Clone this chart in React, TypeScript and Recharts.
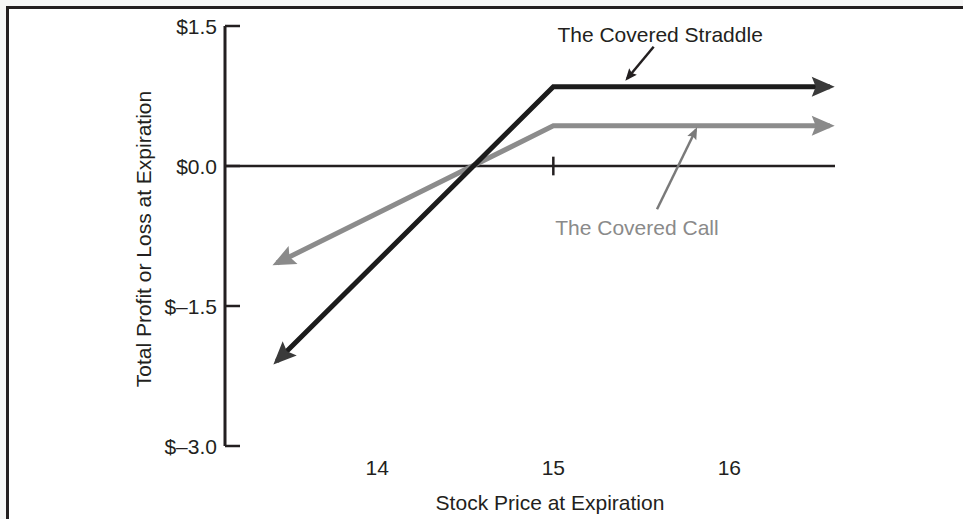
import React from 'react';
import { LineChart, Line, XAxis, YAxis, ReferenceLine, ReferenceDot } from 'recharts';

// stock price at expiration (x) and profit/loss per share (y)
const prices = [13.43, 15, 16.57];
const straddleValues = [-2.09, 0.85, 0.85];
const coveredCallValues = [-1.04, 0.43, 0.43];

const xTicks = [14, 15, 16];
const yTicks = [1.5, 0, -1.5, -3];

// callout arrows (from label towards the line), in data units
const straddleNotePrices = [15.57, 15.42];
const straddleNoteValues = [1.277, 0.938];
const callNotePrices = [15.589, 15.809];
const callNoteValues = [-0.464, 0.385];

const straddleLabel = { price: 15.023, value: 1.328, text: 'The Covered Straddle' };
const callLabel = { price: 15.011, value: -0.739, text: 'The Covered Call' };

const FONT = '"Liberation Sans", Arial, Helvetica, sans-serif';
const INK = '#231f20';
const GRAY = '#8c8c8c';

const data = prices.map((price, i) => ({
  price,
  straddle: straddleValues[i],
  call: coveredCallValues[i],
}));
const straddleNote = straddleNotePrices.map((price, i) => ({ price, value: straddleNoteValues[i] }));
const callNote = callNotePrices.map((price, i) => ({ price, value: callNoteValues[i] }));

const fmtMoney = (v: number) => (v < 0 ? `$\u2013${Math.abs(v).toFixed(1)}` : `$${v.toFixed(1)}`);

// arrowhead drawn at the line ends, pointing along the segment
const arrowDot =
  (color: string, len: number, half: number, notch: number, shift: number, both: boolean) =>
  (props: any) => {
    const { cx, cy, index, points } = props;
    const n = points ? points.length : 0;
    const isLast = index === n - 1;
    const isFirst = index === 0;
    if (!points || n < 2 || (!isLast && !(isFirst && both))) return <g key={`dot-${index}`} />;
    const nb = isLast ? points[index - 1] : points[index + 1];
    const dx = cx - nb.x;
    const dy = cy - nb.y;
    const l = Math.hypot(dx, dy) || 1;
    const ux = dx / l;
    const uy = dy / l;
    const tx = cx + ux * shift;
    const ty = cy + uy * shift;
    const bx = tx - ux * len;
    const by = ty - uy * len;
    const px = -uy;
    const py = ux;
    const nx = bx + ux * notch;
    const ny = by + uy * notch;
    const pts = `${tx},${ty} ${bx + px * half},${by + py * half} ${nx},${ny} ${bx - px * half},${by - py * half}`;
    return <polygon key={`dot-${index}`} points={pts} fill={color} />;
  };

const YTick = (props: any) => {
  const { x, y, payload } = props;
  return (
    <g>
      <line x1={x} y1={y} x2={x + 15} y2={y} stroke={INK} strokeWidth={2.5} />
      <text x={x - 8} y={y + 7.5} textAnchor="end" fill={INK} fontSize={21} fontFamily={FONT}>
        {fmtMoney(payload.value)}
      </text>
    </g>
  );
};

const NoteText = (color: string, text: string) => (props: any) => (
  <text x={props.cx} y={props.cy} fill={color} fontSize={21} fontFamily={FONT} textAnchor="start">
    {text}
  </text>
);

export default function App() {
  return (
    <div style={{ position: 'absolute', top: 0, left: 0, width: 963, height: 519, background: '#f6f6f6' }}>
      <div
        style={{
          position: 'absolute',
          top: 6,
          left: 6,
          right: 0,
          bottom: 0,
          background: '#fff',
          borderTop: `3px solid ${INK}`,
          borderLeft: `3px solid ${INK}`,
        }}
      />
      <LineChart
        width={963}
        height={519}
        data={data}
        margin={{ top: 26, right: 128, bottom: 43, left: 145 }}
        style={{ position: 'absolute', top: 0, left: 0 }}
      >
        <XAxis
          dataKey="price"
          type="number"
          domain={[13.135, 16.6]}
          ticks={xTicks}
          height={30}
          axisLine={false}
          tickLine={false}
          tickSize={0}
          tickMargin={14}
          tick={{ fill: INK, fontSize: 21, fontFamily: FONT }}
          label={{
            content: (p: any) => {
              const vb = p.viewBox || { x: 225, y: 446, width: 610 };
              return (
                <text x={vb.x + vb.width / 2 + 20} y={vb.y + 64} textAnchor="middle" fill={INK} fontSize={21} fontFamily={FONT}>
                  Stock Price at Expiration
                </text>
              );
            },
          }}
        />
        <YAxis
          type="number"
          domain={[-3, 1.5]}
          ticks={yTicks}
          width={80}
          tickSize={0}
          tickMargin={0}
          tickLine={false}
          axisLine={{ stroke: INK, strokeWidth: 3 }}
          tick={<YTick />}
          label={{
            content: (p: any) => {
              const vb = p.viewBox || { x: 145, y: 26, width: 80, height: 420 };
              const cx = vb.x + vb.width - 74;
              const cy = vb.y + vb.height / 2 + 3;
              return (
                <text x={cx} y={cy} transform={`rotate(-90, ${cx}, ${cy})`} textAnchor="middle" fill={INK} fontSize={21} fontFamily={FONT}>
                  Total Profit or Loss at Expiration
                </text>
              );
            },
          }}
        />
        <ReferenceLine y={0} stroke={INK} strokeWidth={2.5} />
        <ReferenceLine segment={[{ x: 15, y: 0.1 }, { x: 15, y: -0.1 }]} stroke={INK} strokeWidth={2.5} />

        <Line
          dataKey="call"
          type="linear"
          stroke={GRAY}
          strokeWidth={5}
          strokeLinejoin="miter"
          dot={arrowDot('#8a8a8a', 23, 10, 4, 5, true)}
          activeDot={false}
          isAnimationActive={false}
        />
        <Line
          dataKey="straddle"
          type="linear"
          stroke="#1c1c1c"
          strokeWidth={5}
          strokeLinejoin="miter"
          dot={arrowDot('#3a3a3a', 23, 10, 4, 5, true)}
          activeDot={false}
          isAnimationActive={false}
        />

        <Line
          data={straddleNote}
          dataKey="value"
          type="linear"
          stroke={INK}
          strokeWidth={2.5}
          dot={arrowDot(INK, 12, 5, 2, 3, false)}
          activeDot={false}
          isAnimationActive={false}
        />
        <Line
          data={callNote}
          dataKey="value"
          type="linear"
          stroke="#7a7a7a"
          strokeWidth={2.5}
          dot={arrowDot('#7a7a7a', 12, 5, 2, 3, false)}
          activeDot={false}
          isAnimationActive={false}
        />

        <ReferenceDot x={straddleLabel.price} y={straddleLabel.value} shape={NoteText(INK, straddleLabel.text)} />
        <ReferenceDot x={callLabel.price} y={callLabel.value} shape={NoteText('#8a8a8a', callLabel.text)} />
      </LineChart>
    </div>
  );
}
